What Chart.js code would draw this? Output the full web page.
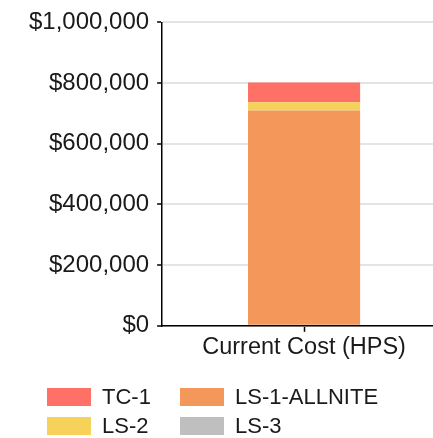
<!DOCTYPE html>
<html>
<head>
<meta charset="utf-8">
<script src="https://cdn.jsdelivr.net/npm/chart.js@4"></script>
<style>
  html, body { margin: 0; padding: 0; background: #fff; width: 433px; height: 438px; overflow: hidden; }
  #wrap { position: absolute; left: 0; top: 0; width: 446px; height: 438px; }
  #legend { position: absolute; left: 0; top: 0; font-family: "Liberation Sans", Arial, sans-serif; font-size: 22px; color: #1a1a1a; }
  .item { position: absolute; display: flex; align-items: center; white-space: nowrap; }
  .box { width: 44px; height: 18px; margin-right: 11px; }
</style>
</head>
<body>
<div id="wrap"><canvas id="c" width="446" height="438"></canvas></div>
<div id="legend"></div>
<script>
const categories = ["Current Cost (HPS)"];
const seriesNames = ["LS-1-ALLNITE", "LS-2", "LS-3", "TC-1"];
const ls1Allnite = [710000];
const ls2 = [27000];
const ls3 = [0];
const tc1 = [65000];
const yTicks = [0, 200000, 400000, 600000, 800000, 1000000];
const colors = {
  "TC-1": "#FF7166",
  "LS-1-ALLNITE": "#F4975A",
  "LS-2": "#F6D25A",
  "LS-3": "#BFBFBF"
};
const seriesValues = { "LS-1-ALLNITE": ls1Allnite, "LS-2": ls2, "LS-3": ls3, "TC-1": tc1 };
const legendOrder = ["TC-1", "LS-1-ALLNITE", "LS-2", "LS-3"];

const datasets = seriesNames.map(n => ({
  label: n,
  data: seriesValues[n],
  backgroundColor: colors[n],
  borderWidth: 0,
  barPercentage: 0.395,
  categoryPercentage: 1.0
}));

const font = { family: "'Liberation Sans', Arial, sans-serif", size: 24 };

new Chart(document.getElementById('c'), {
  type: 'bar',
  data: { labels: categories, datasets },
  options: {
    responsive: false,
    animation: false,
    layout: { padding: { left: 21, top: 6, right: 0, bottom: 74 } },
    plugins: { legend: { display: false }, tooltip: { enabled: false } },
    scales: {
      x: {
        stacked: true,
        border: { color: '#000', width: 1.5 },
        grid: { display: true, drawOnChartArea: false, offset: false, tickColor: '#000', tickLength: 6, tickWidth: 1.5 },
        ticks: { color: '#1a1a1a', font: { family: font.family, size: 23.5 }, padding: 2 }
      },
      y: {
        stacked: true,
        min: 0, max: 1000000,
        afterBuildTicks: (s) => { s.ticks = yTicks.map(v => ({ value: v })); },
        border: { color: '#000', width: 1.5 },
        grid: { color: '#e4e4e4', lineWidth: 2, tickColor: '#000', tickLength: 5, tickWidth: 1.5 },
        ticks: {
          color: '#1a1a1a', font, padding: 8,
          callback: v => '$' + Number(v).toLocaleString('en-US')
        }
      }
    }
  }
});

const legend = document.getElementById('legend');
const pos = [[47, 388], [180, 388], [47, 417], [180, 417]];
legendOrder.forEach((n, i) => {
  const d = document.createElement('div');
  d.className = 'item';
  d.style.left = pos[i][0] + 'px';
  d.style.top = (pos[i][1] - 3) + 'px';
  d.style.height = '24px';
  d.innerHTML = '<span class="box" style="background:' + colors[n] + '"></span><span>' + n + '</span>';
  legend.appendChild(d);
});
</script>
</body>
</html>
